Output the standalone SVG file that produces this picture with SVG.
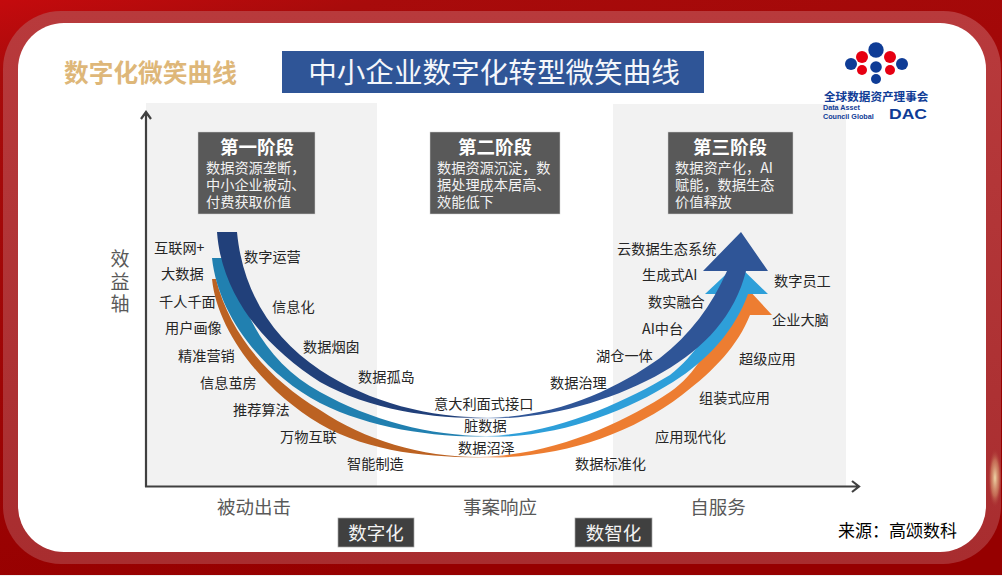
<svg xmlns="http://www.w3.org/2000/svg" width="1002" height="576" viewBox="0 0 1002 576">
<style>
text{font-family:"Noto Sans CJK SC","Noto Sans",sans-serif}
.l{font-size:14.2px;fill:#262626}
.h{font-size:18.500px;font-weight:700;fill:#fff;text-anchor:middle}
.b{font-size:14.2px;fill:#f2f2f2}
.box{fill:#595959;stroke:#d0d0d0;stroke-width:.5}
.x{font-size:18.5px;fill:#595959;text-anchor:middle}
.tag{fill:#404040;stroke:#a6a6a6;stroke-width:.7}
.t{font-size:18.5px;fill:#f2f2f2;text-anchor:middle}
.panel{fill:#f2f2f2}
.ax{fill:none;stroke:#404040;stroke-width:2.2}
.en{font-family:"Liberation Sans",sans-serif;font-weight:700;fill:#0f3c96}
</style>
<defs>
<linearGradient id="bg" x1="0" y1="0" x2="0.35" y2="1"><stop offset="0" stop-color="#c40a0d"/><stop offset=".12" stop-color="#a80b0b"/><stop offset="1" stop-color="#960000"/></linearGradient>
<linearGradient id="frame" x1="0" y1="0" x2="0" y2="1"><stop offset="0" stop-color="#b83a3c"/><stop offset="1" stop-color="#a82d2f"/></linearGradient>
<radialGradient id="glint"><stop offset="0" stop-color="#f0d6a8"/><stop offset=".6" stop-color="#d89a70" stop-opacity=".55"/><stop offset="1" stop-color="#a82d2f" stop-opacity="0"/></radialGradient>
<linearGradient id="g1" gradientUnits="userSpaceOnUse" x1="217" y1="0" x2="770" y2="0"><stop offset="0" stop-color="#21407a"/><stop offset=".43" stop-color="#21407a"/><stop offset=".49" stop-color="#c8d4e8"/><stop offset=".53" stop-color="#2f5597"/><stop offset="1" stop-color="#2f5597"/></linearGradient>
<linearGradient id="g2" gradientUnits="userSpaceOnUse" x1="213" y1="0" x2="770" y2="0"><stop offset="0" stop-color="#2180b0"/><stop offset=".44" stop-color="#2180b0"/><stop offset=".49" stop-color="#d0e6f4"/><stop offset=".53" stop-color="#2e9fd9"/><stop offset="1" stop-color="#2e9fd9"/></linearGradient>
<linearGradient id="g3" gradientUnits="userSpaceOnUse" x1="213" y1="0" x2="772" y2="0"><stop offset="0" stop-color="#bc6222"/><stop offset=".44" stop-color="#bc6222"/><stop offset=".49" stop-color="#f6c8a8"/><stop offset=".53" stop-color="#ed7d31"/><stop offset="1" stop-color="#ed7d31"/></linearGradient>
</defs>
<g id="background">
<rect width="1002" height="575" fill="url(#bg)"/>
<rect y="575" width="1002" height="1" fill="#f0f0f0"/>
<rect x="3" y="11" width="998" height="553" rx="58" fill="url(#frame)"/>
<ellipse cx="995" cy="478" rx="7" ry="30" fill="url(#glint)"/>
<rect x="18" y="23" width="968" height="529" rx="46" fill="#fff"/>
<rect class="panel" x="146" y="103" width="231" height="384"/>
<rect class="panel" x="613" y="104" width="233" height="383"/>
</g>
<g id="headline">
<text x="64" y="82" font-size="24.700" font-weight="700" fill="#deb779">数字化微笑曲线</text>
<rect x="282" y="51" width="422" height="42" fill="#2f5597"/>
<text x="494" y="83" font-size="28.6" fill="#f5f7fb" text-anchor="middle">中小企业数字化转型微笑曲线</text>
</g>
<g id="logo">
<circle cx="876" cy="50" r="7.700" fill="#0f3c96"/><circle cx="876" cy="67" r="5.800" fill="#0f3c96"/><circle cx="876" cy="79" r="5" fill="#0f3c96"/>
<circle cx="851" cy="64" r="6" fill="#0f3c96"/><circle cx="902" cy="64" r="6" fill="#0f3c96"/>
<circle cx="862" cy="57" r="6" fill="#e60012"/><circle cx="862" cy="70" r="5" fill="#e60012"/><circle cx="890" cy="57" r="6" fill="#e60012"/><circle cx="890" cy="70" r="5" fill="#e60012"/>
<text x="824" y="101" font-size="11.600" font-weight="700" fill="#0f3c96">全球数据资产理事会</text>
<text class="en" x="823" y="110" font-size="7.200">Data Asset</text>
<text class="en" x="823" y="118.500" font-size="7.200">Council Global</text>
<text class="en" x="889" y="118.500" font-size="15.500" textLength="38" lengthAdjust="spacingAndGlyphs">DAC</text>
</g>
<g id="connectors">
<path class="ax" d="M146 487V113M141 119L146 112L151 119"/>
<path class="ax" d="M145 486.500H858M852 481L859 486.500L852 492"/>
<path id="curve-orange" fill="url(#g3)" d="M212 279H216C230 335 270 380 320 410C365 440 420 457 480 457C555 455 625 422 670 392C695 375 712 345 722 315L747 288L772 315H750C738 345 715 370 682 395C630 435 560 457.500 490 457.500C430 457.500 370 453 320 424C262 390 217 330 212 279Z"/>
<path id="curve-teal" fill="url(#g2)" d="M212 258H232C240 315 270 365 320 392C370 420 430 436 487 436C555 434 625 402 670 375C695 355 712 330 724 294H705L737 264L768 294H748C735 330 708 360 673 382C625 412 560 437 490 437C430 437 370 428 320 403C262 372 218 315 212 258Z"/>
<path id="curve-navy" fill="url(#g1)" d="M237 232C243 295 275 340 320 370C370 403 430 417.500 487 417.500C555 417.500 615 390 660 358C690 335 712 305 727 271H703L741 232L768 271H746C735 315 705 348 663 372C615 400 550 418.500 490 418.500C430 418.500 370 410 320 382C270 350 222 300 217 232Z"/>
</g>
<g id="stage-1"><rect class="box" x="198" y="132" width="117" height="82"/><text class="h" x="257" y="154">第一阶段</text><text class="b" x="206" y="173">数据资源垄断，</text><text class="b" x="206" y="190">中小企业被动、</text><text class="b" x="206" y="207">付费获取价值</text></g>
<g id="stage-2"><rect class="box" x="430" y="132" width="130" height="82"/><text class="h" x="495" y="154">第二阶段</text><text class="b" x="437" y="173">数据资源沉淀，数</text><text class="b" x="437" y="190">据处理成本居高、</text><text class="b" x="437" y="207">效能低下</text></g>
<g id="stage-3"><rect class="box" x="668" y="132" width="125" height="82"/><text class="h" x="730" y="154">第三阶段</text><text class="b" x="675" y="173">数据资产化，AI</text><text class="b" x="675" y="190">赋能，数据生态</text><text class="b" x="675" y="207">价值释放</text></g>
<g id="labels">
<text class="l" x="154" y="253">互联网+</text><text class="l" x="161" y="279">大数据</text><text class="l" x="159" y="307">千人千面</text><text class="l" x="165" y="333">用户画像</text><text class="l" x="178" y="361">精准营销</text><text class="l" x="200" y="388">信息茧房</text><text class="l" x="233" y="415">推荐算法</text><text class="l" x="280" y="442">万物互联</text><text class="l" x="347" y="469">智能制造</text>
<text class="l" x="244" y="262">数字运营</text><text class="l" x="272" y="312">信息化</text><text class="l" x="303" y="352">数据烟囱</text><text class="l" x="358" y="382">数据孤岛</text><text class="l" x="434" y="409">意大利面式接口</text><text class="l" x="464" y="431">脏数据</text><text class="l" x="458" y="453">数据沼泽</text>
<text class="l" x="575" y="469">数据标准化</text><text class="l" x="655" y="442">应用现代化</text><text class="l" x="699" y="403">组装式应用</text><text class="l" x="739" y="364">超级应用</text><text class="l" x="772" y="325">企业大脑</text><text class="l" x="774" y="286">数字员工</text>
<text class="l" x="617" y="254">云数据生态系统</text><text class="l" x="642" y="280">生成式AI</text><text class="l" x="648" y="307">数实融合</text><text class="l" x="642" y="334">AI中台</text><text class="l" x="596" y="361">湖仓一体</text><text class="l" x="550" y="388">数据治理</text>
</g>
<g id="axis-labels">
<text x="120" y="266" font-size="19" fill="#595959" text-anchor="middle">效</text><text x="120" y="289" font-size="19" fill="#595959" text-anchor="middle">益</text><text x="120" y="311" font-size="19" fill="#595959" text-anchor="middle">轴</text>
<text class="x" x="254" y="514">被动出击</text><text class="x" x="500" y="514">事案响应</text><text class="x" x="718" y="514">自服务</text>
</g>
<g id="tag-digital"><rect class="tag" x="338" y="518" width="76" height="29"/><text class="t" x="376" y="540">数字化</text></g>
<g id="tag-intelligent"><rect class="tag" x="575" y="518" width="77" height="29"/><text class="t" x="613.500" y="540">数智化</text></g>
<text x="838" y="537" font-size="17" fill="#000">来源：高颂数科</text>
</svg>
